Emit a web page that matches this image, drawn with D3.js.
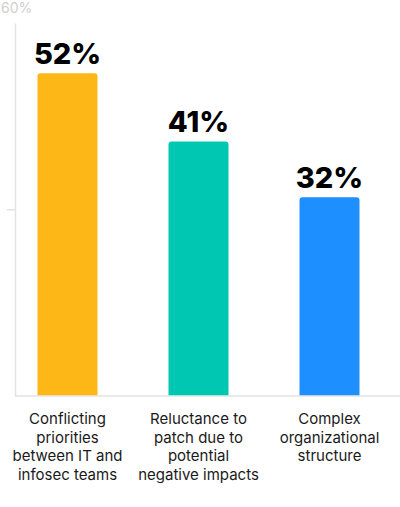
<!DOCTYPE html>
<html>
<head>
<meta charset="utf-8">
<script src="https://cdn.jsdelivr.net/npm/d3@7"></script>
<style>
  html, body { margin: 0; padding: 0; background: #fff; }
  svg { display: block; }
</style>
</head>
<body>
<svg id="chart"></svg>
<script>
// chart data
const categories = [
  'Conflicting priorities between IT and infosec teams',
  'Reluctance to patch due to potential negative impacts',
  'Complex organizational structure'
];
const labelLines = [
  ['Conflicting', 'priorities', 'between IT and', 'infosec teams'],
  ['Reluctance to', 'patch due to', 'potential', 'negative impacts'],
  ['Complex', 'organizational', 'structure']
];
const values = [52, 41, 32];
const colors = ['#fdb817', '#00c7b1', '#1e8fff'];
const yTicks = [30];
const yMaxLabel = '60%';

const width = 400, height = 507;
const svg = d3.select('#chart').attr('width', width).attr('height', height);

const x = d3.scaleBand()
  .domain(categories)
  .range([2, 395])
  .paddingInner(0.542)
  .paddingOuter(0.271);

const y = d3.scaleLinear().domain([0, 60]).range([396, 23.5]);

const axisColor = '#e3e3e3';

// top label
svg.append('text')
  .attr('x', 1)
  .attr('y', 13)
  .attr('font-family', 'Inter, sans-serif')
  .attr('font-size', 14)
  .attr('fill', '#cfcfcf')
  .text(yMaxLabel);

// y axis line
svg.append('line')
  .attr('x1', 15.5).attr('x2', 15.5)
  .attr('y1', y(60)).attr('y2', y(0))
  .attr('stroke', axisColor)
  .attr('stroke-width', 1.5);

// ticks
svg.append('g')
  .selectAll('line')
  .data(yTicks)
  .enter()
  .append('line')
  .attr('x1', 7).attr('x2', 15.5)
  .attr('y1', d => y(d)).attr('y2', d => y(d))
  .attr('stroke', axisColor)
  .attr('stroke-width', 1.5);

// baseline
svg.append('line')
  .attr('x1', 15).attr('x2', width)
  .attr('y1', y(0)).attr('y2', y(0))
  .attr('stroke', axisColor)
  .attr('stroke-width', 1.5);

// bars with rounded tops
const r = 3;
function barPath(d, i) {
  const x0 = x(categories[i]), x1 = x0 + x.bandwidth();
  const y0 = y(d), yb = y(0) - 0.75;
  return 'M' + x0 + ',' + yb +
    'V' + (y0 + r) +
    'Q' + x0 + ',' + y0 + ' ' + (x0 + r) + ',' + y0 +
    'H' + (x1 - r) +
    'Q' + x1 + ',' + y0 + ' ' + x1 + ',' + (y0 + r) +
    'V' + yb + 'Z';
}

svg.append('g')
  .attr('class', 'bars')
  .selectAll('path')
  .data(values)
  .enter()
  .append('path')
  .attr('d', barPath)
  .attr('fill', (d, i) => colors[i]);

// value labels
svg.append('g')
  .selectAll('text')
  .data(values)
  .enter()
  .append('text')
  .attr('x', (d, i) => x(categories[i]) + x.bandwidth() / 2)
  .attr('y', d => y(d) - 9)
  .attr('text-anchor', 'middle')
  .attr('font-family', 'Inter, sans-serif')
  .attr('font-weight', 800)
  .attr('font-size', 29)
  .attr('fill', '#000')
  .text(d => d + '%');

// category labels
const catText = svg.append('g')
  .selectAll('text')
  .data(labelLines)
  .enter()
  .append('text')
  .attr('text-anchor', 'middle')
  .attr('font-family', 'Inter, sans-serif')
  .attr('font-size', 15)
  .attr('fill', '#1a1a1a');

catText.selectAll('tspan')
  .data((d, i) => d.map(s => ({ s: s, i: i })))
  .enter()
  .append('tspan')
  .attr('x', d => x(categories[d.i]) + x.bandwidth() / 2)
  .attr('y', (d, j) => 424 + j * 18.6)
  .text(d => d.s);
</script>
</body>
</html>
